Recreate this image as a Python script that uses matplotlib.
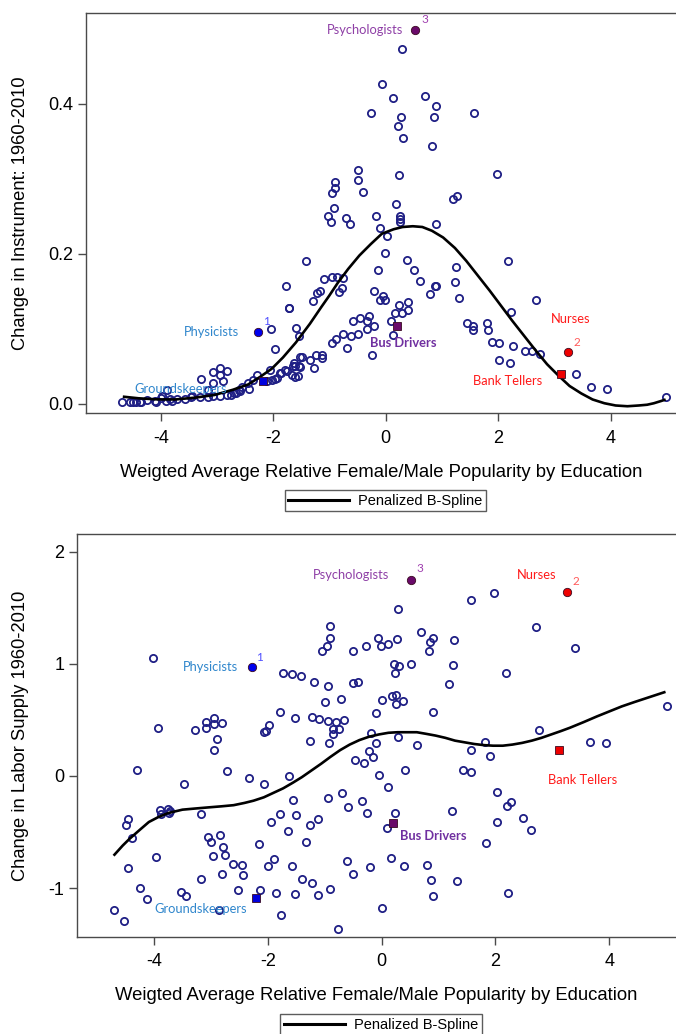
import matplotlib
matplotlib.use("Agg")
import matplotlib.pyplot as plt
from matplotlib.lines import Line2D

plt.rcParams['font.family'] = ['Liberation Sans', 'DejaVu Sans']

# ---- top panel: change in instrument ----
inst_x = [0.29, -0.07, 0.12, 0.69, 0.90, -0.27, 0.27, 0.85, 1.57, 0.21, 0.30, 0.83, -0.49, 0.24,
          1.97, -0.90, -0.49, -0.91, -0.96, -0.41, 1.27, 1.19, 0.18, -0.93, -1.02, -0.71, -0.18, 0.25,
          -0.98, -0.63, 0.26, 0.26, -0.10, 0.89, 0.02, -0.01, -1.42, 0.38, 0.50, -0.14, 1.25, 2.17,
          -0.95, -0.86, -0.76, -1.10, 0.61, 1.24, -1.77, 0.87, 0.90, -0.78, -0.83, -1.17, -1.22, 0.78,
          -0.21, -0.05, -0.11, -0.01, 1.30, 2.68, -1.72, 0.40, 0.24, 0.40, 0.29, 0.16, 2.23, -0.30,
          -0.46, -0.59, -0.34, 0.10, -0.21, -0.34, -0.50, -0.62, -0.77, -0.89, -0.95, 1.44, 1.55, 1.56,
          1.80, 1.82, 0.12, 1.89, 2.02, 2.26, 2.47, 2.61, 2.75, -0.69, -0.25, 2.02, 2.21, 3.38, 3.65,
          3.93, 4.98,
          -2.05, -1.73, -1.29, -1.59, -1.54, -1.98, -1.53, -1.63, -1.65, -1.35, -1.24, -1.14, -1.13,
          -1.28, -1.54, -1.56, -1.67, -1.79, -1.88, -1.94, -2.03, -2.06, -2.30, -2.36, -2.45, -2.43,
          -2.56, -2.62, -2.71, -2.83, -2.95, -3.07, -3.16, -3.31, -3.45, -3.08, -2.95, -2.83, -2.95,
          -2.89, -3.07, -3.28, -3.16, -3.90, -3.99, -3.84, -3.71, -4.11, -4.25, -4.37, -4.49, -4.55,
          -4.70, -3.57, -3.47, -4.45, -4.35, -4.00, -3.81, -3.91, -4.09, -2.75, -2.66, -2.59, -1.98,
          -2.12, -1.87, -1.75, -1.61, -1.52, -1.61, -1.50]
inst_y = [0.473, 0.427, 0.408, 0.411, 0.397, 0.388, 0.383, 0.382, 0.388, 0.371, 0.354, 0.344, 0.312,
          0.305, 0.307, 0.296, 0.298, 0.288, 0.281, 0.283, 0.277, 0.273, 0.266, 0.261, 0.251, 0.248,
          0.250, 0.250, 0.242, 0.240, 0.246, 0.243, 0.235, 0.240, 0.224, 0.201, 0.191, 0.192, 0.178,
          0.179, 0.182, 0.190, 0.169, 0.169, 0.168, 0.166, 0.164, 0.162, 0.157, 0.157, 0.157, 0.155,
          0.149, 0.151, 0.148, 0.147, 0.150, 0.144, 0.139, 0.138, 0.141, 0.139, 0.128, 0.136, 0.132,
          0.125, 0.121, 0.121, 0.123, 0.117, 0.115, 0.110, 0.110, 0.110, 0.104, 0.100, 0.093, 0.091,
          0.093, 0.086, 0.081, 0.108, 0.104, 0.098, 0.108, 0.099, 0.092, 0.083, 0.081, 0.077, 0.071,
          0.071, 0.067, 0.074, 0.065, 0.059, 0.054, 0.040, 0.023, 0.020, 0.009,
          0.100, 0.128, 0.137, 0.101, 0.090, 0.073, 0.062, 0.054, 0.050, 0.059, 0.065, 0.065, 0.061,
          0.048, 0.050, 0.037, 0.039, 0.045, 0.041, 0.034, 0.032, 0.045, 0.039, 0.032, 0.028, 0.020,
          0.022, 0.019, 0.014, 0.012, 0.010, 0.010, 0.009, 0.009, 0.010, 0.043, 0.048, 0.044, 0.039,
          0.030, 0.028, 0.033, 0.018, 0.018, 0.010, 0.006, 0.006, 0.004, 0.005, 0.003, 0.003, 0.003,
          0.003, 0.006, 0.009, 0.002, 0.003, 0.008, 0.004, 0.004, 0.003, 0.012, 0.015, 0.017, 0.033,
          0.031, 0.041, 0.044, 0.036, 0.049, 0.051, 0.062]

inst_spline_x = [-4.68, -4.40, -4.08, -3.75, -3.40, -3.05, -2.72, -2.45, -2.24, -2.03, -1.83, -1.60,
                 -1.35, -1.15, -1.01, -0.85, -0.67, -0.47, -0.27, -0.07, 0.14, 0.30, 0.48, 0.65, 0.82,
                 1.02, 1.23, 1.43, 1.64, 1.85, 2.05, 2.25, 2.46, 2.66, 2.87, 3.07, 3.27, 3.48, 3.68,
                 3.89, 4.09, 4.30, 4.50, 4.65, 4.77, 4.90, 4.98]
inst_spline_y = [0.0098, 0.0076, 0.0062, 0.0060, 0.0084, 0.012, 0.019, 0.026, 0.036, 0.047, 0.062,
                 0.082, 0.107, 0.129, 0.144, 0.162, 0.180, 0.198, 0.213, 0.227, 0.233, 0.236, 0.237,
                 0.236, 0.231, 0.222, 0.208, 0.191, 0.171, 0.151, 0.131, 0.111, 0.091, 0.072, 0.053,
                 0.038, 0.024, 0.014, 0.006, 0.001, -0.002, -0.003, -0.002, -0.001, 0.001, 0.004, 0.006]

# ---- bottom panel: change in labor supply ----
lab_x = [1.57, 1.98, 0.28, -0.91, 2.71, -0.90, -0.96, -1.04, -0.07, 0.11, -0.01, 0.27, -0.28, -0.50,
         0.69, 0.90, 0.85, 0.83, 1.27, 3.40, -4.01, 0.22, 0.30, 0.24, 0.51, 1.26, 2.18, -1.73, -1.57,
         -1.42, -1.18, -0.94, -0.50, -0.41, 1.19, -0.99, -0.72, 0.01, 0.18, 0.26, 0.26, 0.38, 0.90,
         -1.79, -1.52, -1.23, -1.10, -0.95, -0.81, -0.66, -0.86, -0.75, -0.10, 5.01, -3.93, -3.28,
         -3.09, -2.95, -2.81, -3.09, -2.95, -2.04, -1.97, -2.06, -2.89, -1.26, -0.92, -0.86, -0.18,
         -0.10, 0.28, 0.62, 2.77, 1.81, 3.66, 3.95,
         -2.95, 1.57, 1.90, -4.29, -3.47, -2.71, -2.33, -2.06, -1.63, -0.47, -0.31, -0.22, -0.15,
         -0.04, 0.12, 0.41, 1.43, 1.57, 2.03, 2.27, 2.21, 2.03, 2.48, 2.63, 1.83, 1.24, -3.90, -3.76,
         -3.87, -3.71, -3.74, -4.46, -4.50, -4.39, -4.46, -4.24, -4.12, -4.71, -4.53, -3.97, -3.18,
         -3.05, -2.84, -2.99, -2.79, -2.97, -2.76, -2.62, -2.46, -2.43, -2.80, -3.18, -3.52, -3.44,
         -2.53, -2.85, -2.13, -1.86, -1.52, -1.11, -0.90, -1.22, -1.39, -1.77, -0.76, 0.00, -2.15,
         -2.00, -1.89, -1.57, -1.95, -1.79, -1.51, -1.65, -1.55, -1.26, -1.11, -1.33, -0.94, -0.70,
         -0.59, -0.34, -0.25, -0.61, -0.51, -0.21, 0.16, 0.39, 0.24, 0.09, 0.79, 0.87, 0.90, 1.32, 2.23]
lab_y = [1.57, 1.63, 1.49, 1.34, 1.33, 1.23, 1.16, 1.11, 1.23, 1.18, 1.16, 1.22, 1.16, 1.11, 1.28,
         1.23, 1.19, 1.11, 1.21, 1.14, 1.05, 1.00, 0.98, 0.92, 1.00, 0.99, 0.92, 0.92, 0.91, 0.89,
         0.84, 0.80, 0.83, 0.84, 0.82, 0.66, 0.69, 0.68, 0.71, 0.72, 0.64, 0.67, 0.57, 0.57, 0.52,
         0.53, 0.51, 0.49, 0.48, 0.50, 0.42, 0.42, 0.56, 0.62, 0.43, 0.41, 0.48, 0.52, 0.47, 0.43,
         0.46, 0.40, 0.45, 0.39, 0.33, 0.31, 0.29, 0.37, 0.38, 0.29, 0.35, 0.28, 0.41, 0.30, 0.30,
         0.29,
         0.23, 0.23, 0.18, 0.05, -0.07, 0.045, -0.02, -0.07, 0.00, 0.14, 0.12, 0.22, 0.17, 0.01,
         -0.10, 0.05, 0.05, 0.04, -0.14, -0.23, -0.27, -0.41, -0.37, -0.48, -0.60, -0.31, -0.30,
         -0.29, -0.34, -0.31, -0.33, -0.38, -0.44, -0.55, -0.82, -1.00, -1.10, -1.19, -1.29, -0.72,
         -0.34, -0.54, -0.53, -0.59, -0.63, -0.71, -0.70, -0.78, -0.79, -0.88, -0.87, -0.92, -1.03,
         -1.07, -1.02, -1.19, -1.02, -1.04, -1.05, -1.06, -1.01, -0.95, -0.92, -1.24, -1.36, -1.18,
         -0.61, -0.80, -0.74, -0.80, -0.41, -0.34, -0.35, -0.49, -0.21, -0.44, -0.38, -0.59, -0.20,
         -0.15, -0.28, -0.22, -0.33, -0.76, -0.87, -0.81, -0.73, -0.80, -0.33, -0.46, -0.79, -0.93,
         -1.07, -0.94, -1.04]

lab_spline_x = [-4.71, -4.55, -4.43, -4.25, -4.09, -3.92, -3.75, -3.50, -3.28, -3.05, -2.81, -2.60,
                -2.41, -2.25, -2.07, -1.90, -1.73, -1.56, -1.40, -1.23, -1.06, -0.90, -0.73, -0.56,
                -0.39, -0.22, -0.05, 0.12, 0.28, 0.45, 0.62, 0.79, 0.95, 1.12, 1.29, 1.46, 1.63, 1.80,
                1.96, 2.13, 2.30, 2.47, 2.64, 2.81, 2.98, 3.15, 3.31, 3.55, 3.78, 4.00, 4.22, 4.45,
                4.72, 4.99]
lab_spline_y = [-0.71, -0.62, -0.56, -0.48, -0.41, -0.365, -0.33, -0.30, -0.29, -0.28, -0.27, -0.26,
                -0.24, -0.22, -0.19, -0.15, -0.11, -0.06, -0.01, 0.05, 0.11, 0.17, 0.23, 0.28, 0.32,
                0.35, 0.37, 0.385, 0.39, 0.39, 0.39, 0.375, 0.36, 0.34, 0.315, 0.30, 0.285, 0.275,
                0.27, 0.27, 0.28, 0.295, 0.315, 0.34, 0.37, 0.40, 0.43, 0.48, 0.53, 0.575, 0.62, 0.66,
                0.705, 0.75]

# highlighted occupations
occ_names = ['Physicists', 'Nurses', 'Psychologists', 'Bank Tellers', 'Bus Drivers', 'Groundskeepers']
inst_occ_x = [-2.28, 3.24, 0.52, 3.11, 0.20, -2.19]
inst_occ_y = [0.096, 0.069, 0.499, 0.040, 0.104, 0.031]
lab_occ_x = [-2.28, 3.26, 0.52, 3.12, 0.20, -2.20]
lab_occ_y = [0.97, 1.64, 1.75, 0.235, -0.42, -1.09]
occ_rank = ['1', '2', '3', '', '', '']

# marker / text styling per occupation
occ_marker = ['o', 'o', 'o', 's', 's', 's']
occ_face = ['#0000ee', '#ee0000', '#6a0a6a', '#ee0000', '#6a0a6a', '#0000dd']
occ_text_col = ['#2f86cc', '#ff1a1a', '#8e3fa6', '#ff1a1a', '#7030a0', '#2f86cc']
rank_col = ['#5050ff', '#ff5a5a', '#a040b0', '', '', '']

# label offsets in points (name label, rank label)
inst_offsets = [(-33, 0), (2, 24), (-36, 0), (-38, -5), (4.5, -12.5), (-59, -6)]
lab_offsets = [(-30, 0), (-22, 12), (-43, 3), (17, -22), (29, -9), (-40, -8)]
inst_rank_off = [(6.5, 7.5), (6.5, 7), (7, 7.5)]
lab_rank_off = [(5.7, 7.3), (6.5, 7.3), (6, 8)]

label_font = ['Lato', 'DejaVu Sans']
dot_col = '#1f1f85'
axis_col = '#4a4a4a'


def style_axes(ax):
    ax.spines['right'].set_visible(False)
    for s in ['left', 'top', 'bottom']:
        ax.spines[s].set_color(axis_col)
        ax.spines[s].set_linewidth(1.0)
    ax.tick_params(direction='out', length=6, width=1, color=axis_col, labelsize=13, pad=3)
    ax.tick_params(axis='x', pad=6)


def draw_panel(ax, xs, ys, sx, sy, ox, oy, offsets, rank_off, ylabel):
    ax.plot(xs, ys, 'o', mfc='none', mec=dot_col, mew=1.3, ms=5.2, zorder=2)
    ax.plot(sx, sy, color='black', lw=1.9, zorder=3, solid_capstyle='butt')
    for i, name in enumerate(occ_names):
        ax.plot(ox[i], oy[i], occ_marker[i], mfc=occ_face[i], mec='#3a0a20', mew=0.6,
                ms=6.0 if occ_marker[i] == 'o' else 5.5, zorder=4)
        ax.annotate(name, (ox[i], oy[i]), xytext=offsets[i], textcoords='offset points',
                    ha='center', va='center', fontsize=9.3, color=occ_text_col[i],
                    family=label_font, fontweight='bold' if name == 'Bus Drivers' else 'normal',
                    zorder=5)
        if occ_rank[i]:
            ax.annotate(occ_rank[i], (ox[i], oy[i]), xytext=rank_off[i],
                        textcoords='offset points', ha='center', va='center', fontsize=8.5,
                        color=rank_col[i], family=label_font, zorder=5)
    ax.set_xticks([-4, -2, 0, 2, 4])
    ax.set_xticklabels(['-4', '-2', '0', '2', '4'])
    ax.set_xlabel('Weigted Average Relative Female/Male Popularity by Education',
                  fontsize=13.3, labelpad=12)
    ax.set_ylabel(ylabel, fontsize=13.2, labelpad=14)
    style_axes(ax)


fig = plt.figure(figsize=(6.76, 10.34), dpi=100)

ax1 = fig.add_axes([0.1272, 0.6003, 0.8728, 0.3874])
draw_panel(ax1, inst_x, inst_y, inst_spline_x, inst_spline_y, inst_occ_x, inst_occ_y,
           inst_offsets, inst_rank_off, 'Change in Instrument: 1960-2010')
ax1.set_xlim(-5.335, 5.164)
ax1.set_ylim(-0.0124, 0.5217)
ax1.set_yticks([0.0, 0.2, 0.4])
ax1.set_yticklabels(['0.0', '0.2', '0.4'])

ax2 = fig.add_axes([0.1139, 0.0941, 0.8861, 0.3892])
draw_panel(ax2, lab_x, lab_y, lab_spline_x, lab_spline_y, lab_occ_x, lab_occ_y,
           lab_offsets, lab_rank_off, 'Change in Labor Supply 1960-2010')
ax2.set_xlim(-5.353, 5.174)
ax2.set_ylim(-1.432, 2.154)
ax2.set_yticks([-1, 0, 1, 2])
ax2.set_yticklabels(['-1', '0', '1', '2'])

handle = [Line2D([0], [0], color='black', lw=2.2)]
for anchor in [(0.570, 0.526), (0.564, 0.019)]:
    leg = fig.legend(handle, ['Penalized B-Spline'], loc='upper center', bbox_to_anchor=anchor,
                     fontsize=10.5, frameon=True, fancybox=False, handlelength=4.2,
                     handletextpad=0.6, borderpad=0.25, borderaxespad=0)
    leg.get_frame().set_edgecolor('#333333')
    leg.get_frame().set_linewidth(1.0)

fig.savefig('out.png', dpi=100)
